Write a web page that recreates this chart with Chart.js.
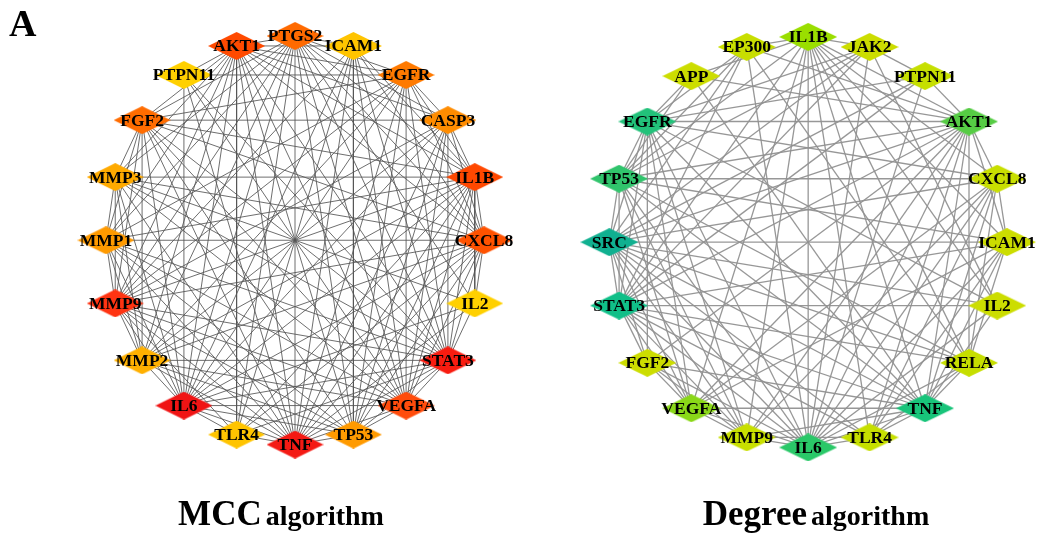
<!DOCTYPE html>
<html lang="en">
<head>
    <meta charset="UTF-8">
    <title>Hub gene networks</title>
    <script src="https://cdn.jsdelivr.net/npm/chart.js"></script>
    <style>
        body {
            margin: 0;
            background: #fff;
        }
        .wrap {
            position: relative;
            width: 1064px;
            height: 540px;
        }
        .cap {
            position: absolute;
            font-family: 'Liberation Serif', 'Times New Roman', serif;
            font-weight: bold;
            color: #000;
            text-align: center;
            white-space: nowrap;
        }
        .big { font-size: 35px; }
        .small { font-size: 28px; }
    </style>
</head>
<body>
<div class="wrap">
    <canvas id="net" width="1064" height="540"></canvas>
    <div class="cap" style="left:9px;top:3px;font-size:38px;line-height:40px;">A</div>
    <div class="cap" style="left:131px;top:494px;width:300px;line-height:40px;"><span class="big">MCC</span> <span class="small">algorithm</span></div>
    <div class="cap" style="left:666px;top:494px;width:300px;line-height:40px;"><span class="big">Degree</span> <span class="small">algorithm</span></div>
</div>

<script>
    // nodes in circle order, clockwise from the top
    const mccNodes = ['PTGS2', 'ICAM1', 'EGFR', 'CASP3', 'IL1B', 'CXCL8', 'IL2', 'STAT3', 'VEGFA', 'TP53',
                      'TNF', 'TLR4', 'IL6', 'MMP2', 'MMP9', 'MMP1', 'MMP3', 'FGF2', 'PTPN11', 'AKT1'];
    const mccColors = ['#ff6a00', '#ffc400', '#ff7a00', '#ff8c00', '#ff4800', '#ff5200', '#ffd000', '#f81c10', '#ff4c0c', '#ff9a00',
                       '#f41a14', '#ffc400', '#f01414', '#ffb000', '#ff3412', '#ff9a00', '#ffaa00', '#ff6c00', '#ffd000', '#ff4a00'];

    const degNodes = ['IL1B', 'JAK2', 'PTPN11', 'AKT1', 'CXCL8', 'ICAM1', 'IL2', 'RELA', 'TNF', 'TLR4',
                      'IL6', 'MMP9', 'VEGFA', 'FGF2', 'STAT3', 'SRC', 'TP53', 'EGFR', 'APP', 'EP300'];
    const degColors = ['#9ade00', '#ccdd00', '#c6df00', '#56cc44', '#c8df00', '#ccdd00', '#ccdd00', '#c6de00', '#18c47a', '#c6df00',
                       '#2ac868', '#c8df00', '#8ad818', '#ccdd00', '#10bf88', '#10b090', '#30c46c', '#22c27a', '#ccdd00', '#c8de00'];

    // edges: source, then its targets
    const mccEdges = [
        ['IL6', 'TNF STAT3 MMP9 AKT1 IL1B CXCL8 VEGFA PTGS2 FGF2 EGFR CASP3 MMP1 TP53 MMP3 MMP2 TLR4 ICAM1 IL2 PTPN11'],
        ['TNF', 'STAT3 MMP9 AKT1 IL1B CXCL8 VEGFA PTGS2 FGF2 EGFR CASP3 MMP1 TP53 MMP3 MMP2 TLR4 ICAM1 IL2 PTPN11'],
        ['STAT3', 'MMP9 AKT1 IL1B CXCL8 VEGFA PTGS2 FGF2 EGFR CASP3 MMP1 TP53 MMP3 MMP2 TLR4 ICAM1 IL2 PTPN11'],
        ['MMP9', 'AKT1 IL1B CXCL8 VEGFA PTGS2 FGF2 EGFR CASP3 MMP1 TP53 MMP3 MMP2 TLR4 ICAM1'],
        ['AKT1', 'IL1B CXCL8 VEGFA PTGS2 FGF2 EGFR CASP3 MMP1 TP53 MMP3 MMP2 TLR4 ICAM1 PTPN11'],
        ['IL1B', 'CXCL8 VEGFA PTGS2 FGF2 EGFR CASP3 MMP1 TP53 MMP3 MMP2 TLR4 ICAM1 IL2'],
        ['CXCL8', 'VEGFA PTGS2 FGF2 EGFR CASP3 MMP1 TP53 MMP3 MMP2 TLR4 ICAM1 IL2'],
        ['VEGFA', 'PTGS2 FGF2 EGFR CASP3 MMP1 TP53 MMP3 MMP2 ICAM1 PTPN11'],
        ['PTGS2', 'ICAM1 EGFR CASP3 FGF2 MMP1 MMP3 MMP2 TP53 IL2 TLR4'],
        ['EGFR', 'CASP3 FGF2 TP53 MMP2 MMP1 PTPN11'],
        ['CASP3', 'TP53 MMP2 FGF2'],
        ['MMP1', 'MMP3 MMP2 FGF2 TP53'],
        ['MMP3', 'MMP2 FGF2 IL2'],
        ['MMP2', 'FGF2 TP53'],
        ['ICAM1', 'TP53 TLR4'],
        ['TP53', 'FGF2']
    ];
    const degEdges = [
        ['SRC', 'STAT3 TNF EGFR TP53 IL6 AKT1 JAK2 PTPN11 CXCL8 ICAM1 IL2 RELA TLR4 MMP9 VEGFA FGF2 EP300'],
        ['STAT3', 'TNF EGFR TP53 IL6 AKT1 IL1B JAK2 PTPN11 IL2 RELA TLR4 MMP9 VEGFA FGF2 EP300 ICAM1'],
        ['TNF', 'EGFR TP53 IL6 AKT1 IL1B CXCL8 ICAM1 IL2 RELA TLR4 MMP9 VEGFA FGF2 APP'],
        ['EGFR', 'TP53 IL6 AKT1 PTPN11 JAK2 CXCL8 VEGFA FGF2 MMP9 EP300 APP IL2'],
        ['TP53', 'IL6 AKT1 IL1B EP300 JAK2 VEGFA MMP9 CXCL8 ICAM1 RELA APP'],
        ['IL6', 'AKT1 IL1B JAK2 CXCL8 ICAM1 IL2 RELA TLR4 MMP9 VEGFA FGF2 EP300 PTPN11'],
        ['AKT1', 'IL1B PTPN11 CXCL8 ICAM1 RELA TLR4 MMP9 VEGFA FGF2 EP300 APP'],
        ['IL1B', 'EP300 JAK2 CXCL8 ICAM1 IL2 RELA TLR4 MMP9 VEGFA APP'],
        ['VEGFA', 'FGF2 MMP9 CXCL8 ICAM1'],
        ['CXCL8', 'ICAM1 RELA TLR4 MMP9'],
        ['RELA', 'EP300 ICAM1 TLR4'],
        ['MMP9', 'FGF2 TLR4'],
        ['JAK2', 'PTPN11 IL2'],
        ['ICAM1', 'TLR4']
    ];

    // circular layout (ellipse) for each network
    function layout(names, cx, cy, rx, ry) {
        const pos = {};
        names.forEach((n, i) => {
            const a = i * 2 * Math.PI / names.length;
            pos[n] = { x: cx + rx * Math.sin(a), y: cy - ry * Math.cos(a) };
        });
        return pos;
    }

    function diamond(color, w, h) {
        const c = document.createElement('canvas');
        c.width = w;
        c.height = h;
        const g = c.getContext('2d');
        g.fillStyle = color;
        g.beginPath();
        g.moveTo(w / 2, 0);
        g.lineTo(w, h / 2);
        g.lineTo(w / 2, h);
        g.lineTo(0, h / 2);
        g.closePath();
        g.fill();
        return c;
    }

    function buildNetwork(names, colors, edges, pos, edgeColor, edgeWidth, w, h) {
        const sets = [];
        edges.forEach(row => {
            row[1].split(' ').forEach(t => {
                sets.push({
                    data: [pos[row[0]], pos[t]],
                    showLine: true,
                    borderColor: edgeColor,
                    borderWidth: edgeWidth,
                    pointRadius: 0,
                    order: 1,
                    clip: false
                });
            });
        });
        sets.push({
            data: names.map(n => pos[n]),
            labels: names,
            pointStyle: colors.map(c => diamond(c, w, h)),
            pointRadius: 10,
            showLine: false,
            order: 0,
            clip: false
        });
        return sets;
    }

    const mccPos = layout(mccNodes, 290, 239, 193, 213);
    const degPos = layout(degNodes, 814, 241, 203, 214);

    const datasets = buildNetwork(mccNodes, mccColors, mccEdges, mccPos, 'rgba(85,85,85,0.85)', 1, 57, 28)
        .concat(buildNetwork(degNodes, degColors, degEdges, degPos, 'rgba(145,145,145,0.95)', 1.3, 58, 28));

    const nodeLabels = {
        id: 'nodeLabels',
        afterDatasetsDraw(chart) {
            const ctx = chart.ctx;
            ctx.save();
            ctx.font = "bold 17.5px 'Liberation Serif'";
            ctx.fillStyle = '#000';
            ctx.textAlign = 'center';
            ctx.textBaseline = 'middle';
            chart.data.datasets.forEach((ds, i) => {
                if (!ds.labels) return;
                chart.getDatasetMeta(i).data.forEach((pt, j) => {
                    ctx.fillText(ds.labels[j], pt.x, pt.y + 1);
                });
            });
            ctx.restore();
        }
    };

    new Chart(document.getElementById('net'), {
        type: 'scatter',
        data: { datasets: datasets },
        options: {
            responsive: false,
            animation: false,
            layout: { padding: 0 },
            plugins: { legend: { display: false }, tooltip: { enabled: false } },
            scales: {
                x: { type: 'linear', min: 0, max: 1064, display: false },
                y: { type: 'linear', min: 0, max: 540, reverse: true, display: false }
            }
        },
        plugins: [nodeLabels]
    });
</script>
</body>
</html>
